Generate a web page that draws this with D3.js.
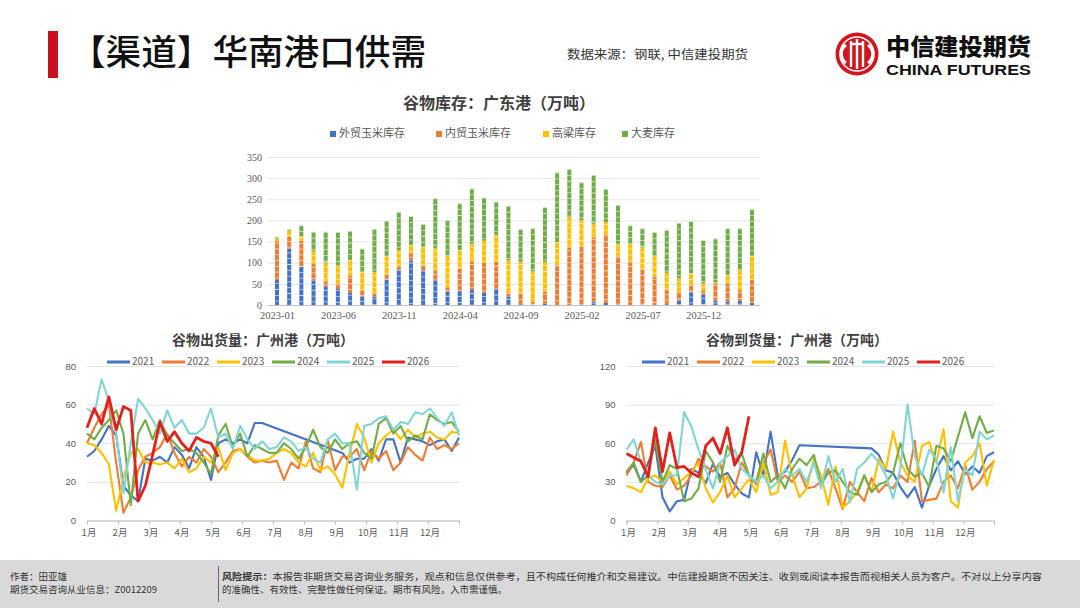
<!DOCTYPE html>
<html>
<head>
<meta charset="utf-8">
<script src="https://cdn.jsdelivr.net/npm/d3@7"></script>
<style>
body { margin: 0; background: #fff; }
svg { display: block; font-family: "Noto Sans CJK SC", "Noto Sans", sans-serif; }
</style>
</head>
<body>
<svg id="page" width="1080" height="608"></svg>
<script>
// ---- 谷物库存：广东港（万吨），月度 ----
const stockMonths = ["2023-01","2023-02","2023-03","2023-04","2023-05","2023-06","2023-07","2023-08","2023-09","2023-10",
  "2023-11","2023-12","2024-01","2024-02","2024-03","2024-04","2024-05","2024-06","2024-07","2024-08",
  "2024-09","2024-10","2024-11","2024-12","2025-01","2025-02","2025-03","2025-04","2025-05","2025-06",
  "2025-07","2025-08","2025-09","2025-10","2025-11","2025-12","2026-01","2026-02","2026-03","2026-04"]
const importCorn   = [59,133,91,58,44,38,30,20,20,61, 84,105,82,60,32,34,37,29,38,20, 2,1,3,0,0,2,8,5,1,0, 1,0,2,10,30,24,10,8,10,5]
const domesticCorn = [92,28,61,40,12,13,40,15,8,10, 6,17,12,22,10,52,65,71,64,10, 27,6,28,94,135,138,152,162,113,100, 85,67,33,21,17,11,41,42,25,54]
const sorghum      = [6,15,10,30,45,43,36,44,50,45, 40,20,44,52,74,44,43,52,64,76, 73,72,71,55,73,60,32,29,31,44, 50,49,41,32,28,16,3,20,47,57]
const barley       = [4,3,26,45,72,78,69,54,102,83, 90,68,53,118,84,110,130,102,78,128, 77,102,129,164,113,90,115,78,91,44, 45,56,101,131,123,102,103,111,99,110]
const stockKeys   = ["外贸玉米库存","内贸玉米库存","高粱库存","大麦库存"]
const stockTicks  = [0,50,100,150,200,250,300,350]

// ---- 周度：1月..12月 ----
const monthLabels = ["1月","2月","3月","4月","5月","6月","7月","8月","9月","10月","11月","12月"]
const years = ["2021","2022","2023","2024","2025","2026"]

// 谷物出货量：广州港
const ship2021 = [33,36,42,49,44,18,13,10,32,31,33,30,38,34,27,38,33,21,40,42,40,42,40,50.5,50.5,
  null,null,null,null,null,null,null,null,null,null,
  35,30,32,32,37,31,42,42,30,43,42,41,39,41,42,36,43]
const ship2022 = [40,48,55,60,30,4,12,26,33,35,38,45,35,28,33,30,37,33,25,30,36,37,33,30,31,30,
  31,21,30,27,41,27,25,42,26,33,33,37,26,36,32,36,26,30,38,34,31,43,37,39,37,40]
const ship2023 = [40,39,35,29,5,22,35,37,30,30,29,30,27,32,25,27,33,30,38,26,35,37,34,31,31,32,
  35,37,35,30,28,35,26,28,24,17,35,50,43,30,40,44,47,42,47,43,45,46,43,42,46,45]
const ship2024 = [45,42,48,52,57,45,8,45,52,42,52,44,40,36,37,35,30,24,44,50,38,45,33,39,37,35,
  35,40,37,32,38,47,38,35,42,37,40,41,35,32,50,53,45,49,41,44,42,55,52,50,51,46]
const ship2025 = [58,55,73,62,45,14,40,63,58,52,45,57,48,52,45,45,48,58,43,45,37,49,42,37,
  41,37,38,43,41,36,38,32,30,42,45,40,40,16,49,50,53,54,47,51,50,56,55,58,53,49,56,44]
const ship2026 = [48,58,50,64,47,59,57,10,18,34,51,41,46,40,36,43,41,40,33]
const shipTicks = [0,20,40,60,80]

// 谷物到货量：广州港
const arr2021 = [37,43,30,45,58,18,7,15,16,40,37,29,44,34,37,28,21,18,53,35,69,34,38,47,58.5,
  null,null,null,null,null,null,null,null,null,
  56,51,39,37,26,18,26,10,27,40,50,39,46,36,42,37,50,53]
const arr2022 = [35,45,61,30,27,26,35,24,27,35,48,42,38,45,18,25,45,35,28,45,55,30,35,30,38,
  25,26,30,40,25,9,30,22,15,33,22,28,25,35,30,62,15,16,17,30,35,25,43,24,30,40,46]
const arr2023 = [27,25,22,33,35,30,38,28,33,38,45,25,14,22,35,18,25,32,22,45,20,22,62,35,18,
  25,48,35,12,42,10,15,22,35,22,48,40,69,45,35,30,58,61,45,71,15,10,45,50,60,27,47]
const arr2024 = [38,45,30,35,63,30,43,40,15,17,25,54,45,30,58,47,52,35,30,52,30,35,25,40,48,
  43,51,28,37,39,30,22,20,35,22,28,30,37,60,40,34,37,26,58,56,46,65,84,64,81,68,70]
const arr2025 = [55,63,45,35,30,28,35,35,84,73,55,40,25,45,50,55,40,35,30,35,25,30,40,35,40,
  30,45,25,50,30,40,14,40,45,52,45,35,17,40,90,50,35,55,48,22,57,15,40,35,69,63,66]
const arr2026 = [52,49,46,34,72,38,68,41,42,37,34,58,64,52,72,43,53,81]
const arrTicks = [0,30,60,90,120]

const yearColors = ["#4472c4","#ed7d31","#ffc000","#70ad47","#7fd6d4","#e3201b"]
const stockColors = ["#4472c4","#ed7d31","#ffc000","#70ad47"]

const svg = d3.select("#page")

// ---------------- header ----------------
svg.append("rect").attr("x",48).attr("y",31).attr("width",10).attr("height",47).attr("fill","#c8101e")
svg.append("text").attr("x",70).attr("y",65)
  .attr("font-size",35).attr("font-weight",500).attr("fill","#111")
  .attr("textLength",356).attr("lengthAdjust","spacingAndGlyphs")
  .text("【渠道】华南港口供需")
svg.append("text").attr("x",567).attr("y",59)
  .attr("font-size",12).attr("fill","#333")
  .attr("textLength",181).attr("lengthAdjust","spacingAndGlyphs")
  .text("数据来源：钢联, 中信建投期货")

// logo
const logo = svg.append("g").attr("transform","translate(857,54)")
logo.append("circle").attr("r",21.5).attr("fill","#d3141c")
logo.append("circle").attr("r",17).attr("fill","none").attr("stroke","#fff").attr("stroke-width",1.6)
logo.append("path").attr("d","M-11,-9 A11,11 0 0 0 -11,9").attr("fill","none").attr("stroke","#fff").attr("stroke-width",3)
logo.append("path").attr("d","M11,-9 A11,11 0 0 1 11,9").attr("fill","none").attr("stroke","#fff").attr("stroke-width",3)
logo.append("path").attr("d","M-6,-13 V13 M0,-15 V15 M6,-13 V13 M-6,-10 H6").attr("fill","none").attr("stroke","#fff").attr("stroke-width",2.4)
svg.append("text").attr("x",886).attr("y",55)
  .attr("font-size",23).attr("font-weight",900).attr("fill","#111")
  .attr("textLength",145).attr("lengthAdjust","spacingAndGlyphs")
  .text("中信建投期货")
svg.append("text").attr("x",886).attr("y",75)
  .attr("font-family","'Liberation Sans', Arial, sans-serif")
  .attr("font-size",14).attr("font-weight",700).attr("fill","#111")
  .attr("textLength",145).attr("lengthAdjust","spacingAndGlyphs")
  .text("CHINA FUTURES")

// ---------------- top stacked bar chart ----------------
const sx = d3.scalePoint().domain(stockMonths).range([277, 752])
const sy = d3.scaleLinear().domain([0, 350]).range([305, 157])

svg.append("text").attr("x",499).attr("y",109).attr("text-anchor","middle")
  .attr("font-size",16).attr("font-weight",700).attr("fill","#404040")
  .text("谷物库存：广东港（万吨）")

const stockLegendX = [330, 436, 543, 622]
const sLeg = svg.append("g").selectAll("g").data(stockKeys).join("g")
  .attr("transform",(d,i)=>`translate(${stockLegendX[i]},134)`)
sLeg.append("rect").attr("x",0).attr("y",-3).attr("width",6).attr("height",6).attr("fill",(d,i)=>stockColors[i])
sLeg.append("text").attr("x",9).attr("y",0).attr("dominant-baseline","middle")
  .attr("font-size",11).attr("fill","#595959").text(d=>d)

const gridTop = svg.append("g").attr("transform","translate(268,0)")
  .call(d3.axisLeft(sy).tickValues(stockTicks).tickSize(-492).tickPadding(6))
gridTop.select(".domain").remove()
gridTop.selectAll(".tick line").attr("stroke",d=>d===0?"#bfbfbf":"#e6e6e6")
gridTop.selectAll(".tick text").attr("fill","#595959").attr("font-size",10)
  .attr("font-family","'Liberation Serif', serif")

const stockRows = stockMonths.map((m,i)=>({
  month: m,
  [stockKeys[0]]: importCorn[i], [stockKeys[1]]: domesticCorn[i],
  [stockKeys[2]]: sorghum[i], [stockKeys[3]]: barley[i]
}))
const stacked = d3.stack().keys(stockKeys)(stockRows)
svg.append("g").selectAll("g").data(stacked).join("g")
  .attr("fill",(d,i)=>stockColors[i])
  .selectAll("rect").data(d=>d).join("rect")
  .attr("x",d=>sx(d.data.month)-2)
  .attr("width",4)
  .attr("y",d=>sy(d[1]))
  .attr("height",d=>Math.max(0, sy(d[0])-sy(d[1])))

// thin white breaks that the source bars show
svg.append("g").selectAll("line").data(stockRows).join("line")
  .attr("x1",d=>sx(d.month)).attr("x2",d=>sx(d.month))
  .attr("y1",d=>sy(d[stockKeys[0]]+d[stockKeys[1]]+d[stockKeys[2]]+d[stockKeys[3]]))
  .attr("y2",sy(0))
  .attr("stroke","#fff").attr("stroke-width",4.5).attr("stroke-opacity",0.7)
  .attr("stroke-dasharray","0.8 5")

const xTop = svg.append("g").attr("transform","translate(0,305)")
  .call(d3.axisBottom(sx).tickValues(stockMonths.filter((d,i)=>i%5===0)).tickSize(0).tickPadding(7))
xTop.select(".domain").remove()
xTop.selectAll(".tick text").attr("fill","#595959").attr("font-size",10.5)
  .attr("font-family","'Liberation Serif', serif")

// ---------------- weekly line charts ----------------
function lineChart(cfg) {
  const x = d3.scaleLinear().domain([0, 51]).range([cfg.x0, cfg.x1])
  const xm = d3.scaleLinear().domain([0, 12]).range([cfg.x0, cfg.x1])
  const y = d3.scaleLinear().domain([0, cfg.max]).range([520.5, 366])
  const g = svg.append("g")

  g.append("text").attr("x",cfg.titleX).attr("y",345).attr("text-anchor","middle")
    .attr("font-size",14).attr("font-weight",700).attr("fill","#404040").text(cfg.title)

  const grid = g.append("g").attr("transform",`translate(${cfg.x0},0)`)
    .call(d3.axisLeft(y).tickValues(cfg.ticks).tickSize(-(cfg.x1-cfg.x0)).tickPadding(11))
  grid.select(".domain").remove()
  grid.selectAll(".tick line").attr("stroke","#e3e3e3")
  grid.selectAll(".tick text").attr("fill","#595959").attr("font-size",9.5)

  const xa = g.append("g").attr("transform","translate(0,520.5)")
    .call(d3.axisBottom(xm).tickValues(d3.range(13)).tickSize(4).tickFormat(""))
  xa.select(".domain").attr("stroke","#bfbfbf")
  xa.selectAll(".tick line").attr("stroke","#bfbfbf")
  g.append("g").selectAll("text").data(monthLabels).join("text")
    .attr("x",(d,i)=>xm(i)+2).attr("y",536).attr("text-anchor","middle")
    .attr("font-size",9.5).attr("fill","#595959").text(d=>d)

  const line = d3.line().x(d=>x(d.i)).y(d=>y(d.v)).curve(d3.curveLinear)
  g.append("g").selectAll("path").data(cfg.series).join("path")
    .attr("d",s=>line(s.values.map((v,i)=>({i,v})).filter(d=>d.v!=null)))
    .attr("fill","none")
    .attr("stroke",(s,i)=>yearColors[i])
    .attr("stroke-width",(s,i)=>i===5?2.8:2.1)
    .attr("stroke-linejoin","round")

  const leg = g.append("g").selectAll("g").data(years).join("g")
    .attr("transform",(d,i)=>`translate(${cfg.legendX + i*55},362)`)
  leg.append("line").attr("x1",0).attr("x2",23).attr("stroke",(d,i)=>yearColors[i]).attr("stroke-width",3)
  leg.append("text").attr("x",25).attr("y",0).attr("dominant-baseline","middle")
    .attr("font-size",10).attr("fill","#595959").text(d=>d)
}

lineChart({
  x0: 87, x1: 459, max: 80, ticks: shipTicks, legendX: 107, titleX: 263,
  title: "谷物出货量：广州港（万吨）",
  series: [ship2021, ship2022, ship2023, ship2024, ship2025, ship2026].map((v,i)=>({name:years[i], values:v}))
})
lineChart({
  x0: 626.5, x1: 994, max: 120, ticks: arrTicks, legendX: 642, titleX: 797,
  title: "谷物到货量：广州港（万吨）",
  series: [arr2021, arr2022, arr2023, arr2024, arr2025, arr2026].map((v,i)=>({name:years[i], values:v}))
})

// ---------------- footer ----------------
svg.append("rect").attr("x",0).attr("y",560).attr("width",1080).attr("height",48).attr("fill","#d9d9d9")
svg.append("line").attr("x1",218.5).attr("x2",218.5).attr("y1",566).attr("y2",602).attr("stroke","#666")
const foot = svg.append("g").attr("font-size",9.5).attr("fill","#333")
foot.append("text").attr("x",10).attr("y",580).text("作者：田亚雄")
foot.append("text").attr("x",10).attr("y",593).text("期货交易咨询从业信息：Z0012209")
const risk1 = foot.append("text").attr("x",222).attr("y",580)
  .attr("textLength",820).attr("lengthAdjust","spacingAndGlyphs")
risk1.append("tspan").attr("font-weight",700).text("风险提示：")
risk1.append("tspan").text("本报告非期货交易咨询业务服务，观点和信息仅供参考，且不构成任何推介和交易建议。中信建投期货不因关注、收到或阅读本报告而视相关人员为客户。不对以上分享内容")
foot.append("text").attr("x",222).attr("y",593)
  .text("的准确性、有效性、完整性做任何保证。期市有风险，入市需谨慎。")
</script>
</body>
</html>
